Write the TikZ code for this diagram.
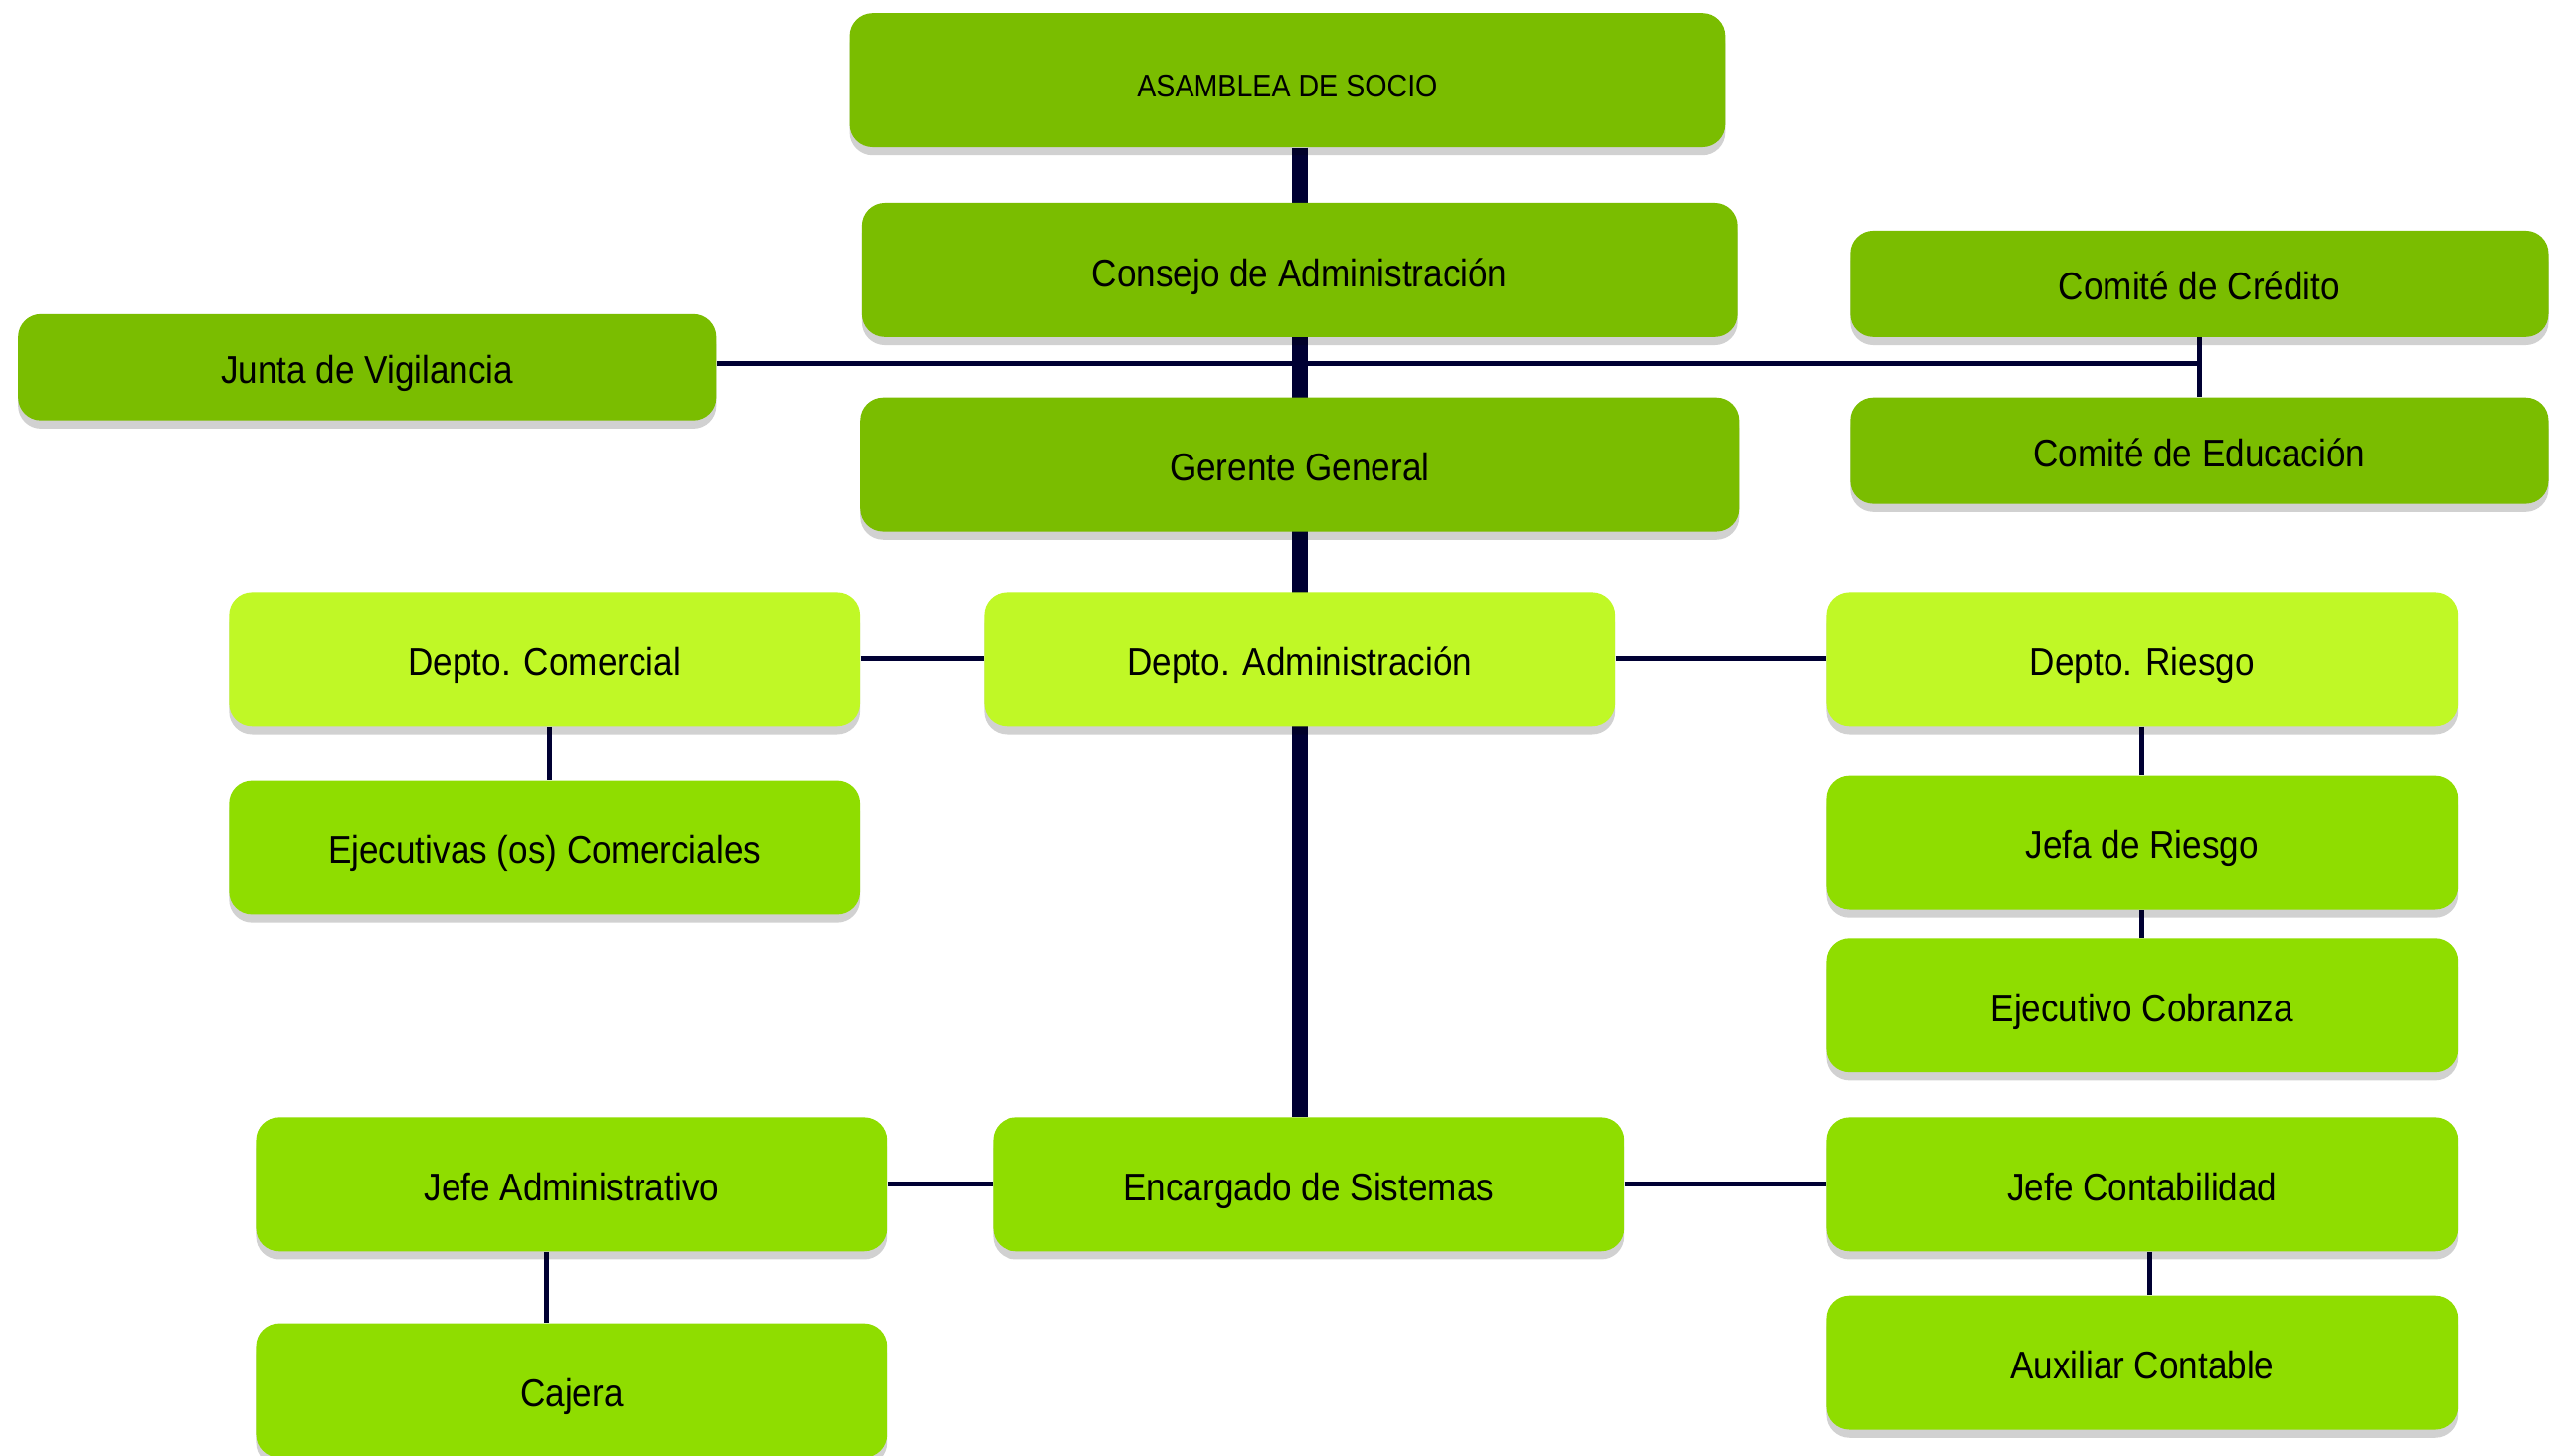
\documentclass[tikz,border=0pt]{standalone}
\usepackage{fontspec}
\setmainfont[FakeStretch=0.9]{Liberation Sans}
\usetikzlibrary{shadows,backgrounds}
\definecolor{verdeOsc}{HTML}{7ABD00}
\definecolor{verdeMed}{HTML}{8FDD00}
\definecolor{verdeCla}{HTML}{C0F826}
\definecolor{lineaAzul}{HTML}{000033}
\tikzset{
  caja/.style={rectangle, rounded corners=0.28cm, inner sep=0pt, text=black,
    font=\fontsize{13.5}{16}\selectfont, text height=1.15em, text depth=0pt,
    drop shadow={shadow xshift=0pt, shadow yshift=-0.1cm, opacity=0.18, fill=black}},
  cajaAlta/.style={caja, fill=verdeOsc, minimum width=10.7cm, minimum height=1.64cm},
  cajaLado/.style={caja, fill=verdeOsc, minimum width=8.54cm, minimum height=1.3cm},
  cajaDepto/.style={caja, fill=verdeCla, minimum width=7.72cm, minimum height=1.64cm},
  cajaPuesto/.style={caja, fill=verdeMed, minimum width=7.72cm, minimum height=1.64cm},
  tronco/.style={draw=lineaAzul, line width=0.2cm},
  rama/.style={draw=lineaAzul, line width=0.06cm}
}
\begin{document}
\begin{tikzpicture}[x=0.02cm, y=-0.02cm]
			%%%%% START %%%%%
			\useasboundingbox (0,0) rectangle (1568,890);
			
			% direccion
			\node[cajaAlta, font=\fontsize{11}{13}\selectfont] (asamblea) at (787,49) {ASAMBLEA DE SOCIO};
			\node[cajaAlta] (consejo) at (794.5,165) {Consejo de Administración};
			\node[cajaAlta, minimum width=10.74cm] (gerente) at (794.5,284) {Gerente General};
			
			\node[cajaLado] (junta) at (224.5,224.5) {Junta de Vigilancia};
			\node[cajaLado] (credito) at (1344.5,173.5) {Comité de Crédito};
			\node[cajaLado] (educacion) at (1344.5,275.5) {Comité de Educación};
			
			% departamentos
			\node[cajaDepto] (comercial) at (333,403) {Depto. Comercial};
			\node[cajaDepto] (admin) at (794.5,403) {Depto. Administración};
			\node[cajaDepto] (riesgo) at (1309.5,403) {Depto. Riesgo};
			
			\node[cajaPuesto] (ejecutivas) at (333,518) {Ejecutivas (os) Comerciales};
			\node[cajaPuesto] (jefaRiesgo) at (1309.5,515) {Jefa de Riesgo};
			\node[cajaPuesto] (cobranza) at (1309.5,614.5) {Ejecutivo Cobranza};
			
			\node[cajaPuesto] (jefeAdmin) at (349.5,724) {Jefe Administrativo};
			\node[cajaPuesto] (sistemas) at (800,724) {Encargado de Sistemas};
			\node[cajaPuesto] (contabilidad) at (1309.5,724) {Jefe Contabilidad};
			
			\node[cajaPuesto] (cajera) at (349.5,850) {Cajera};
			\node[cajaPuesto] (auxiliar) at (1309.5,833) {Auxiliar Contable};
			
			% lineas
			\begin{scope}[on background layer]
				\fill[white] (0,0) rectangle (1568,890);
				\draw[tronco] (asamblea.south -| admin) -- (sistemas.north -| admin);
				\draw[rama] ([yshift=0.05cm]junta.east) -- ([yshift=0.05cm]junta.east -| credito.south);
				\draw[rama] (credito.south) -- (educacion.north);
				\draw[rama] (comercial.east) -- (admin.west);
				\draw[rama] (admin.east) -- (riesgo.west);
				\draw[rama] ([xshift=0.06cm]comercial.south) -- ([xshift=0.06cm]ejecutivas.north);
				\draw[rama] (riesgo.south) -- (jefaRiesgo.north);
				\draw[rama] (jefaRiesgo.south) -- (cobranza.north);
				\draw[rama] (jefeAdmin.east) -- (sistemas.west);
				\draw[rama] (sistemas.east) -- (contabilidad.west);
				\draw[rama] ([xshift=-0.31cm]jefeAdmin.south) -- ([xshift=-0.31cm]cajera.north);
				\draw[rama] ([xshift=0.09cm]contabilidad.south) -- ([xshift=0.09cm]auxiliar.north);
			\end{scope}
			%%%%% END %%%%%
\end{tikzpicture}
\end{document}
